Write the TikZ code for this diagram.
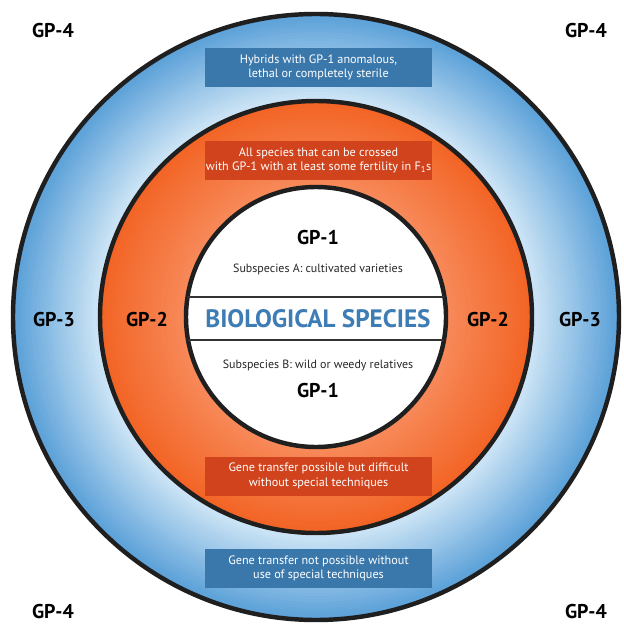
\documentclass[tikz,border=0pt]{standalone}
\usepackage{fontspec}
\setmainfont{PT Sans}
\definecolor{ringblue}{HTML}{5AA0D8}
\definecolor{ringpale}{HTML}{D3E8F7}
\definecolor{ringorange}{HTML}{F26424}
\definecolor{ringpeach}{HTML}{F9976D}
\definecolor{boxblue}{HTML}{3A78AC}
\definecolor{boxorange}{HTML}{D1431C}
\definecolor{titleblue}{HTML}{3D7CB4}
\tikzset{
    ring/.style={line width=3.8pt, draw=black!88},
    gplabel/.style={font=\fontsize{17}{20}\selectfont\bfseries, text=black, inner sep=1pt},
    infobox/.style={minimum width=6.81cm, minimum height=1.17cm, inner sep=0pt, align=center,
        text=white, font=\fontsize{10.4}{12.2}\selectfont},
    subtext/.style={font=\fontsize{10.2}{12}\selectfont, text=black!85}
}

\begin{document}
\begin{tikzpicture}[x=0.03cm, y=-0.03cm]
        \useasboundingbox (0,0) rectangle (623,625);
        \coordinate (centre) at (316,317);
        %blue band, outer to inner
            \foreach \i in {0,...,29} {
                \pgfmathsetmacro{\rad}{303-\i*3}
                \pgfmathtruncatemacro{\mix}{100-\i*3.4}
                \fill[ringblue!\mix!ringpale] (centre) circle (\rad);
            }
            \draw[ring] (centre) circle (303);
        %orange band, outer to inner
            \foreach \i in {0,...,29} {
                \pgfmathsetmacro{\rad}{216-\i*3}
                \pgfmathtruncatemacro{\mix}{100-\i*2.6}
                \fill[ringorange!\mix!ringpeach] (centre) circle (\rad);
            }
            \draw[ring] (centre) circle (216);
        %white circle
            \filldraw[ring, fill=white] (centre) circle (130);
        % stripe lines
            \begin{scope}
                \clip (centre) circle (130);
                \draw [line width=2pt, black!80] (180,297) -- (455,297);
                \draw [line width=2pt, black!80] (180,340) -- (455,340);
            \end{scope}
        % boxes
            \node[infobox, fill=boxblue] (hybrids) at (318.5,67.5) {Hybrids with GP-1 anomalous,\\lethal or completely sterile};
            \node[infobox, fill=boxorange] (crossed) at (318.5,160.5) {All species that can be crossed\\with GP-1 with at least some fertility in F\textsubscript{1}s};
            \node[infobox, fill=boxorange] (difficult) at (318.5,476) {Gene transfer possible but difficult\\without special techniques};
            \node[infobox, fill=boxblue] (notpossible) at (318.5,568.5) {Gene transfer not possible without\\use of special techniques};
        % inner circle
            \node[font=\fontsize{21.5}{24}\selectfont\bfseries, text=titleblue] (species) at (318,318.5) {BIOLOGICAL SPECIES};
            \node[gplabel] (gp1a) at (318,238) {GP-1};
            \node[subtext] (subA) at (318,269) {Subspecies A: cultivated varieties};
            \node[subtext] (subB) at (318,365) {Subspecies B: wild or weedy relatives};
            \node[gplabel] (gp1b) at (318,391) {GP-1};
        % gene pool labels
            \node[gplabel] (gp2l) at (147,320) {GP-2};
            \node[gplabel] (gp2r) at (488,320) {GP-2};
            \node[gplabel] (gp3l) at (54,320) {GP-3};
            \node[gplabel] (gp3r) at (580,320) {GP-3};
            \node[gplabel] (gp4tl) at (53,31) {GP-4};
            \node[gplabel] (gp4tr) at (586,31) {GP-4};
            \node[gplabel] (gp4bl) at (53,612) {GP-4};
            \node[gplabel] (gp4br) at (586,612) {GP-4};
    \end{tikzpicture}
\end{document}
